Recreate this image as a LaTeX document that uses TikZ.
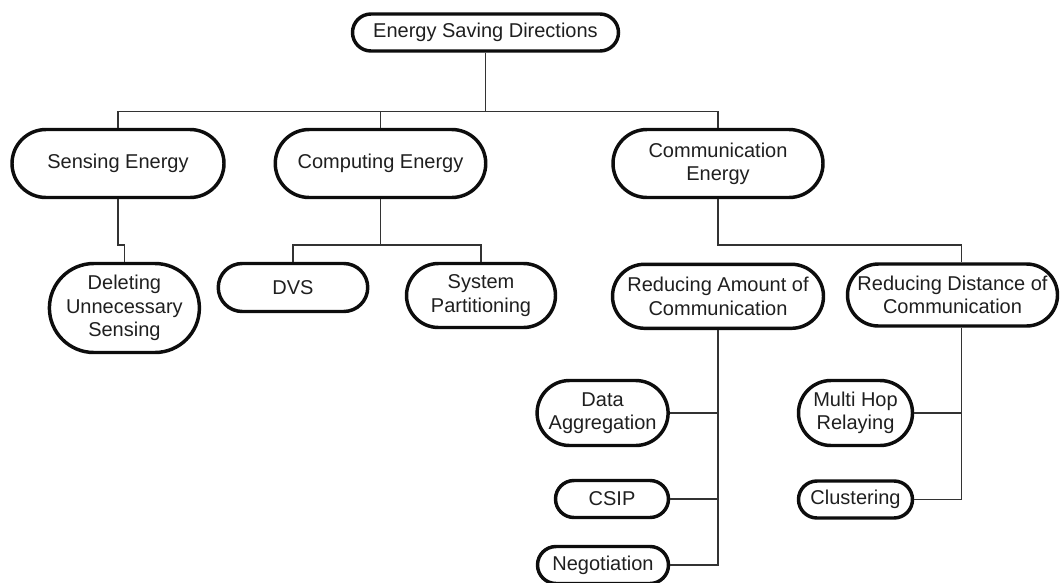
\documentclass[tikz,border=0pt]{standalone}
\usepackage{fontspec}
\setmainfont{Liberation Sans}
\begin{document}
\begin{tikzpicture}[x=0.75pt,y=-0.75pt,
  pill/.style n args={3}{draw=black!95, line width=2.6pt,
    minimum width=#1*0.75pt, minimum height=#2*0.75pt,
    rounded corners=#3*0.75pt, inner sep=0pt, align=center,
    font=\fontsize{15}{17.5}\selectfont, text=black!88},
  conn/.style={draw=black!80, line width=0.85pt}]
\useasboundingbox (0,0) rectangle (1060,582);
\clip (0,0) rectangle (1060,582);

\node[pill={266}{37}{18.5}] (root) at (485.5,32.5) {Energy Saving Directions};
\node[pill={212}{68}{34}] (sens) at (118,163.5) {Sensing Energy};
\node[pill={210.5}{68}{34}] (comp) at (380.5,163.5) {Computing Energy};
\node[pill={210}{68}{34}] (comm) at (718,163.5) {Communication\\Energy};
\node[pill={150}{89}{44.5}] (del) at (124.4,308) {Deleting\\Unnecessary\\Sensing};
\node[pill={149.5}{48}{24}] (dvs) at (293,287.5) {DVS};
\node[pill={149}{64}{32}] (sp) at (481,295.5) {System\\Partitioning};
\node[pill={211}{64}{32}] (ram) at (718,296.3) {Reducing Amount of\\Communication};
\node[pill={210}{62}{31}] (rdc) at (952.5,295) {Reducing Distance of\\Communication};
\node[pill={131}{65}{32.5}] (da) at (602.6,413) {Data\\Aggregation};
\node[pill={113}{37}{18.5}] (csip) at (612,499) {CSIP};
\node[pill={131}{37}{18.5}] (neg) at (603,565) {Negotiation};
\node[pill={114}{65}{32.5}] (mhr) at (855.5,413) {Multi Hop\\Relaying};
\node[pill={114}{37}{18.5}] (clu) at (855.5,499.5) {Clustering};

\coordinate (bus) at (0,111.7);
\coordinate (jog) at (0,245);
\coordinate (rline) at (961.5,0);

\draw[conn] (root.south) -- (root.south |- bus);
\draw[conn] (sens.north) -- (sens.north |- bus) -- (comm.north |- bus) -- (comm.north);
\draw[conn] (comp.north) -- (comp.north |- bus);
\draw[conn] (sens.south) -- (sens.south |- jog) -| (del.north);
\draw[conn] (comp.south) -- (comp.south |- jog);
\draw[conn] (dvs.north) |- (sp.north |- jog) -- (sp.north);
\draw[conn] (comm.south) -- (comm.south |- jog) -- (rline |- jog) -- (rline |- rdc.north);
\draw[conn] (ram.south) -- (ram.south |- neg.east) -- (neg.east);
\draw[conn] (da.east) -- (da.east -| ram.south);
\draw[conn] (csip.east) -- (csip.east -| ram.south);
\draw[conn] (rline |- rdc.south) -- (rline |- clu.east) -- (clu.east);
\draw[conn] (mhr.east) -- (mhr.east -| rline);
\end{tikzpicture}
\end{document}
